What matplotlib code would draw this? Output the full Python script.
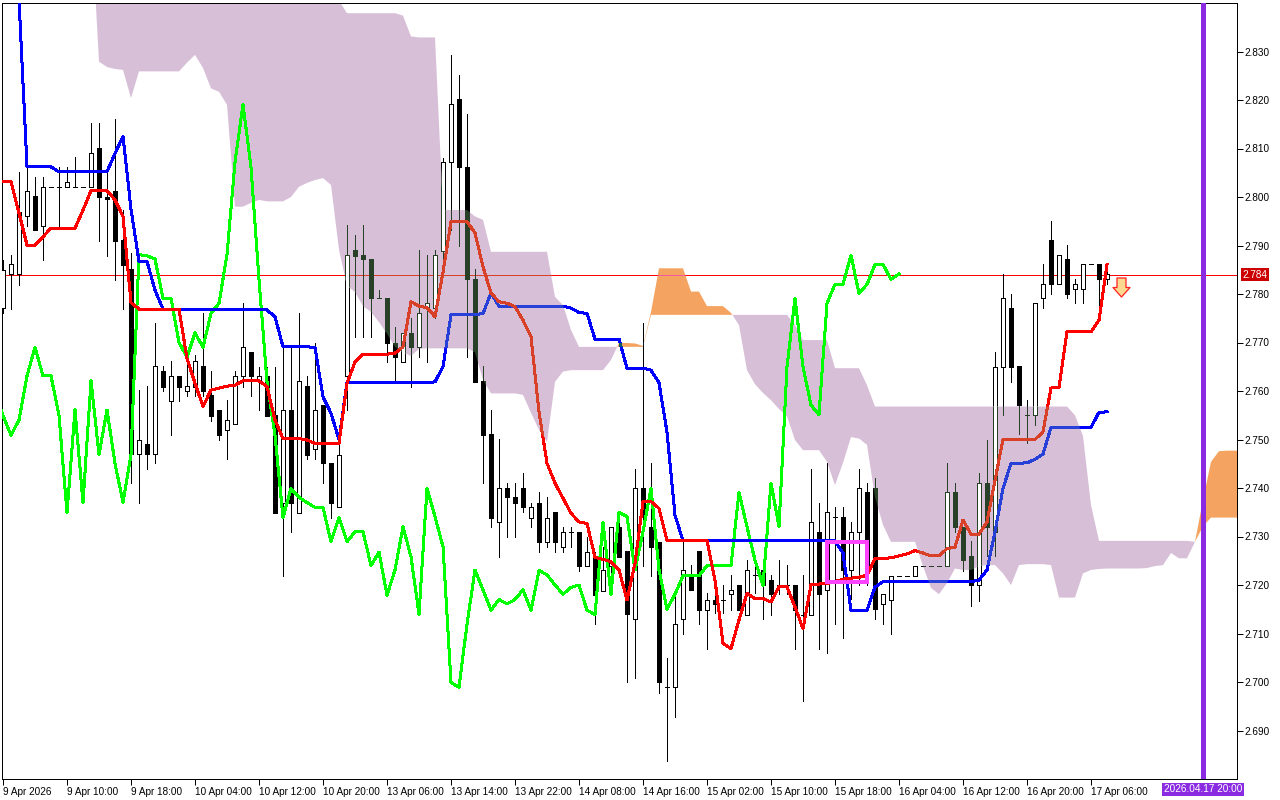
import numpy as np
import matplotlib
matplotlib.use("Agg")
import matplotlib.pyplot as plt
from matplotlib.path import Path
from matplotlib.patches import Rectangle
from matplotlib.transforms import blended_transform_factory

plt.rcParams['font.family'] = ['Liberation Sans', 'DejaVu Sans']

# H1 candles, 9 Apr 2026 .. 17 Apr 08:00 (bar index = position on the chart)
bar_open = [
    2.7771, 2.7841, 2.7841, 2.7960, 2.8002, 2.7941, 2.8020, 2.8020, 2.8020, 2.8020,
    2.8020, 2.8020, 2.8101, 2.8001, 2.8013, 2.7912, 2.7851, 2.7470, 2.7491, 2.7470,
    2.7641, 2.7580, 2.7631, 2.7600, 2.7609, 2.7652, 2.7592, 2.7561, 2.7520, 2.7531,
    2.7631, 2.7680, 2.7621, 2.7631, 2.7550, 2.7370, 2.7561, 2.7349, 2.7610, 2.7480,
    2.7571, 2.7451, 2.7360, 2.7630, 2.7891, 2.7881, 2.7872, 2.7791, 2.7791, 2.7700,
    2.7660, 2.7720, 2.7690, 2.7771, 2.7771, 2.7889, 2.8072, 2.8202, 2.8061, 2.7830,
    2.7621, 2.7511, 2.7329, 2.7399, 2.7381, 2.7399, 2.7339, 2.7370, 2.7289, 2.7350,
    2.7279, 2.7310, 2.7310, 2.7240, 2.7258, 2.7188, 2.7240, 2.7320, 2.7270, 2.7130,
    2.7399, 2.7320, 2.7289, 2.6989, 2.6989, 2.7129, 2.7221, 2.7270, 2.7148, 2.7170,
    2.7170, 2.7181, 2.7200, 2.7139, 2.7221, 2.7230, 2.7210, 2.7200, 2.7200, 2.7200,
    2.7139, 2.7139, 2.7310, 2.7190, 2.7341, 2.7341, 2.7231, 2.7310, 2.7391, 2.7399,
    2.7160, 2.7170, 2.7219, 2.7219, 2.7219, 2.7240, 2.7240, 2.7240, 2.7240, 2.7391,
    2.7320, 2.7260, 2.7199, 2.7410, 2.7310, 2.7650, 2.7771, 2.7652, 2.7551, 2.7551,
    2.7791, 2.7912, 2.7820, 2.7872, 2.7810, 2.7810, 2.7861, 2.7861, 2.7830,
]
bar_high = [
    2.7870, 2.7881, 2.8052, 2.8061, 2.8042, 2.8042, 2.8020, 2.8061, 2.8061, 2.8082,
    2.8020, 2.8152, 2.8152, 2.8061, 2.8161, 2.7973, 2.7884, 2.7602, 2.7610, 2.7740,
    2.7652, 2.7662, 2.7631, 2.7662, 2.7674, 2.7760, 2.7641, 2.7561, 2.7581, 2.7641,
    2.7781, 2.7680, 2.7650, 2.7650, 2.7650, 2.7691, 2.7690, 2.7760, 2.7631, 2.7700,
    2.7571, 2.7451, 2.7513, 2.7942, 2.7922, 2.7942, 2.7872, 2.7808, 2.7791, 2.7731,
    2.7720, 2.7750, 2.7891, 2.7881, 2.7891, 2.8080, 2.8293, 2.8252, 2.8171, 2.7851,
    2.7652, 2.7561, 2.7501, 2.7410, 2.7410, 2.7430, 2.7370, 2.7391, 2.7381, 2.7350,
    2.7320, 2.7320, 2.7310, 2.7299, 2.7268, 2.7279, 2.7320, 2.7351, 2.7270, 2.7440,
    2.7740, 2.7451, 2.7289, 2.7049, 2.7176, 2.7291, 2.7241, 2.7270, 2.7183, 2.7221,
    2.7200, 2.7221, 2.7200, 2.7251, 2.7241, 2.7241, 2.7221, 2.7251, 2.7241, 2.7200,
    2.7221, 2.7440, 2.7370, 2.7451, 2.7361, 2.7361, 2.7329, 2.7440, 2.7410, 2.7420,
    2.7181, 2.7219, 2.7219, 2.7219, 2.7240, 2.7240, 2.7240, 2.7240, 2.7451, 2.7410,
    2.7320, 2.7291, 2.7430, 2.7500, 2.7681, 2.7841, 2.7800, 2.7652, 2.7581, 2.7781,
    2.7861, 2.7951, 2.7880, 2.7901, 2.7830, 2.7861, 2.7861, 2.7861, 2.7851,
]
bar_low = [
    2.7760, 2.7769, 2.7819, 2.7941, 2.7931, 2.7870, 2.8020, 2.7934, 2.8020, 2.8020,
    2.8020, 2.8020, 2.7909, 2.7879, 2.7829, 2.7769, 2.7410, 2.7370, 2.7440, 2.7451,
    2.7600, 2.7509, 2.7580, 2.7590, 2.7590, 2.7590, 2.7539, 2.7499, 2.7460, 2.7531,
    2.7609, 2.7590, 2.7561, 2.7549, 2.7349, 2.7219, 2.7310, 2.7349, 2.7459, 2.7459,
    2.7410, 2.7339, 2.7360, 2.7561, 2.7712, 2.7712, 2.7712, 2.7791, 2.7660, 2.7619,
    2.7660, 2.7609, 2.7670, 2.7660, 2.7750, 2.7870, 2.7932, 2.7900, 2.7671, 2.7619,
    2.7410, 2.7320, 2.7258, 2.7300, 2.7300, 2.7350, 2.7320, 2.7268, 2.7279, 2.7268,
    2.7268, 2.7279, 2.7229, 2.7240, 2.7120, 2.7188, 2.7210, 2.7258, 2.6999, 2.7009,
    2.7240, 2.7219, 2.6978, 2.6837, 2.6928, 2.7100, 2.7190, 2.7119, 2.7069, 2.7142,
    2.7142, 2.7148, 2.7148, 2.7139, 2.7183, 2.7129, 2.7139, 2.7181, 2.7181, 2.7069,
    2.6960, 2.7139, 2.7069, 2.7059, 2.7119, 2.7090, 2.7172, 2.7200, 2.7200, 2.7129,
    2.7119, 2.7100, 2.7219, 2.7219, 2.7219, 2.7240, 2.7240, 2.7240, 2.7240, 2.7310,
    2.7229, 2.7157, 2.7168, 2.7260, 2.7260, 2.7551, 2.7619, 2.7511, 2.7492, 2.7530,
    2.7771, 2.7801, 2.7820, 2.7791, 2.7781, 2.7781, 2.7861, 2.7771, 2.7820,
]
bar_close = [
    2.7850, 2.7861, 2.7970, 2.8013, 2.7931, 2.8020, 2.8020, 2.8020, 2.8031, 2.8020,
    2.8020, 2.8090, 2.8001, 2.7995, 2.7910, 2.7860, 2.7470, 2.7500, 2.7470, 2.7652,
    2.7609, 2.7631, 2.7609, 2.7610, 2.7662, 2.7600, 2.7549, 2.7509, 2.7540, 2.7631,
    2.7690, 2.7631, 2.7631, 2.7549, 2.7349, 2.7561, 2.7370, 2.7621, 2.7469, 2.7561,
    2.7451, 2.7370, 2.7469, 2.7881, 2.7879, 2.7872, 2.7791, 2.7791, 2.7700, 2.7670,
    2.7720, 2.7690, 2.7760, 2.7781, 2.7881, 2.8072, 2.8191, 2.8061, 2.7830, 2.7619,
    2.7509, 2.7339, 2.7399, 2.7381, 2.7370, 2.7360, 2.7360, 2.7289, 2.7339, 2.7289,
    2.7310, 2.7310, 2.7240, 2.7268, 2.7179, 2.7231, 2.7320, 2.7258, 2.7140, 2.7399,
    2.7341, 2.7279, 2.6999, 2.6989, 2.7119, 2.7231, 2.7190, 2.7148, 2.7170, 2.7161,
    2.7170, 2.7190, 2.7148, 2.7230, 2.7221, 2.7200, 2.7181, 2.7195, 2.7200, 2.7148,
    2.7139, 2.7329, 2.7181, 2.7350, 2.7341, 2.7231, 2.7310, 2.7399, 2.7231, 2.7150,
    2.7181, 2.7219, 2.7219, 2.7219, 2.7240, 2.7240, 2.7240, 2.7240, 2.7391, 2.7320,
    2.7251, 2.7199, 2.7410, 2.7320, 2.7650, 2.7791, 2.7650, 2.7571, 2.7551, 2.7781,
    2.7820, 2.7820, 2.7880, 2.7801, 2.7820, 2.7861, 2.7861, 2.7830, 2.7841,
]

# Ichimoku lines
tenkan = [
    2.8032, 2.8032, 2.7967, 2.7901, 2.7901, 2.7918, 2.7936, 2.7936, 2.7936, 2.7936,
    2.7973, 2.8013, 2.8013, 2.8013, 2.7994, 2.7960, 2.7782, 2.7769, 2.7769, 2.7769,
    2.7769, 2.7769, 2.7769, 2.7667, 2.7616, 2.7568, 2.7602, 2.7606, 2.7610, 2.7612,
    2.7621, 2.7621, 2.7621, 2.7609, 2.7540, 2.7502, 2.7502, 2.7502, 2.7499, 2.7492,
    2.7492, 2.7492, 2.7492, 2.7616, 2.7660, 2.7676, 2.7676, 2.7676, 2.7676, 2.7678,
    2.7691, 2.7784, 2.7775, 2.7772, 2.7753, 2.7845, 2.7949, 2.7949, 2.7949, 2.7926,
    2.7856, 2.7802, 2.7784, 2.7781, 2.7774, 2.7746, 2.7712, 2.7557, 2.7451, 2.7410,
    2.7379, 2.7348, 2.7330, 2.7327, 2.7257, 2.7253, 2.7248, 2.7231, 2.7169, 2.7245,
    2.7372, 2.7372, 2.7358, 2.7291, 2.7291, 2.7291, 2.7291, 2.7291, 2.7291, 2.7210,
    2.7080, 2.7069, 2.7128, 2.7183, 2.7172, 2.7172, 2.7165, 2.7196, 2.7196, 2.7155,
    2.7110, 2.7200, 2.7202, 2.7203, 2.7207, 2.7212, 2.7214, 2.7216, 2.7220, 2.7255,
    2.7255, 2.7256, 2.7260, 2.7264, 2.7271, 2.7266, 2.7260, 2.7260, 2.7275, 2.7278,
    2.7334, 2.7305, 2.7305, 2.7330, 2.7416, 2.7500, 2.7500, 2.7500, 2.7500, 2.7500,
    2.7516, 2.7606, 2.7608, 2.7722, 2.7722, 2.7722, 2.7722, 2.7746, 2.7861,
]
kijun = [
    2.8460, 2.8460, 2.8407, 2.8063, 2.8063, 2.8063, 2.8062, 2.8052, 2.8052, 2.8052,
    2.8052, 2.8052, 2.8052, 2.8052, 2.8090, 2.8125, 2.7975, 2.7867, 2.7867, 2.7808,
    2.7769, 2.7769, 2.7769, 2.7769, 2.7769, 2.7769, 2.7769, 2.7769, 2.7769, 2.7769,
    2.7769, 2.7769, 2.7769, 2.7767, 2.7753, 2.7691, 2.7691, 2.7691, 2.7691, 2.7690,
    2.7588, 2.7554, 2.7500, 2.7617, 2.7617, 2.7617, 2.7617, 2.7617, 2.7617, 2.7617,
    2.7617, 2.7617, 2.7617, 2.7617, 2.7619, 2.7650, 2.7757, 2.7757, 2.7757, 2.7757,
    2.7760, 2.7802, 2.7775, 2.7775, 2.7775, 2.7775, 2.7775, 2.7775, 2.7775, 2.7775,
    2.7775, 2.7771, 2.7762, 2.7760, 2.7707, 2.7707, 2.7707, 2.7707, 2.7647, 2.7647,
    2.7647, 2.7643, 2.7617, 2.7515, 2.7344, 2.7291, 2.7291, 2.7291, 2.7291, 2.7291,
    2.7291, 2.7291, 2.7291, 2.7291, 2.7291, 2.7291, 2.7291, 2.7291, 2.7291, 2.7291,
    2.7291, 2.7291, 2.7291, 2.7291, 2.7291, 2.7266, 2.7148, 2.7148, 2.7148, 2.7196,
    2.7207, 2.7207, 2.7207, 2.7207, 2.7207, 2.7207, 2.7207, 2.7207, 2.7207, 2.7207,
    2.7207, 2.7207, 2.7210, 2.7231, 2.7310, 2.7399, 2.7451, 2.7451, 2.7452, 2.7459,
    2.7470, 2.7525, 2.7525, 2.7525, 2.7525, 2.7525, 2.7525, 2.7556, 2.7557,
]
# Senkou spans, already shifted 26 bars forward (bars 0..155)
span_a = [
    2.8580, 2.8580, 2.8580, 2.8580, 2.8580, 2.8580, 2.8580, 2.8580, 2.8580, 2.8580,
    2.8580, 2.8580, 2.8279, 2.8268, 2.8264, 2.8262, 2.8204, 2.8259, 2.8259, 2.8259,
    2.8259, 2.8259, 2.8259, 2.8277, 2.8293, 2.8266, 2.8224, 2.8217, 2.8190, 2.7980,
    2.7980, 2.7988, 2.7994, 2.7991, 2.7991, 2.7991, 2.8000, 2.8021, 2.8029, 2.8035,
    2.8039, 2.8025, 2.7891, 2.7817, 2.7804, 2.7775, 2.7763, 2.7742, 2.7718, 2.7691,
    2.7680, 2.7672, 2.7687, 2.7688, 2.7688, 2.7688, 2.7688, 2.7688, 2.7688, 2.7680,
    2.7623, 2.7595, 2.7595, 2.7595, 2.7595, 2.7592, 2.7555, 2.7520, 2.7495, 2.7619,
    2.7640, 2.7643, 2.7643, 2.7643, 2.7643, 2.7643, 2.7664, 2.7699, 2.7699, 2.7698,
    2.7693, 2.7763, 2.7853, 2.7853, 2.7853, 2.7853, 2.7805, 2.7805, 2.7775, 2.7775,
    2.7775, 2.7761, 2.7736, 2.7643, 2.7614, 2.7596, 2.7581, 2.7563, 2.7548, 2.7499,
    2.7478, 2.7478, 2.7478, 2.7454, 2.7406, 2.7452, 2.7505, 2.7502, 2.7489, 2.7381,
    2.7324, 2.7289, 2.7289, 2.7289, 2.7289, 2.7239, 2.7194, 2.7181, 2.7204, 2.7234,
    2.7231, 2.7231, 2.7239, 2.7241, 2.7241, 2.7224, 2.7200, 2.7241, 2.7243, 2.7243,
    2.7243, 2.7241, 2.7174, 2.7174, 2.7174, 2.7224, 2.7231, 2.7233, 2.7234, 2.7234,
    2.7234, 2.7234, 2.7234, 2.7235, 2.7239, 2.7241, 2.7266, 2.7255, 2.7255, 2.7289,
    2.7375, 2.7454, 2.7476, 2.7477, 2.7477, 2.7477,
]
span_b = [
    2.8700, 2.8700, 2.8700, 2.8700, 2.8700, 2.8700, 2.8700, 2.8700, 2.8700, 2.8700,
    2.8700, 2.8700, 2.8700, 2.8700, 2.8700, 2.8700, 2.8700, 2.8700, 2.8700, 2.8700,
    2.8700, 2.8700, 2.8700, 2.8700, 2.8700, 2.8700, 2.8700, 2.8700, 2.8700, 2.8700,
    2.8700, 2.8700, 2.8700, 2.8700, 2.8700, 2.8700, 2.8700, 2.8700, 2.8700, 2.8700,
    2.8700, 2.8700, 2.8405, 2.8379, 2.8379, 2.8379, 2.8379, 2.8379, 2.8379, 2.8379,
    2.8374, 2.8331, 2.8329, 2.8329, 2.8329, 2.7973, 2.7973, 2.7973, 2.7973, 2.7960,
    2.7953, 2.7887, 2.7887, 2.7887, 2.7887, 2.7887, 2.7887, 2.7887, 2.7887, 2.7794,
    2.7777, 2.7726, 2.7691, 2.7691, 2.7691, 2.7691, 2.7691, 2.7691, 2.7691, 2.7691,
    2.7691, 2.7757, 2.7757, 2.7757, 2.7757, 2.7757, 2.7757, 2.7757, 2.7757, 2.7757,
    2.7757, 2.7757, 2.7757, 2.7757, 2.7757, 2.7757, 2.7757, 2.7757, 2.7757, 2.7736,
    2.7705, 2.7705, 2.7705, 2.7705, 2.7647, 2.7647, 2.7647, 2.7647, 2.7612, 2.7568,
    2.7568, 2.7568, 2.7568, 2.7568, 2.7568, 2.7568, 2.7568, 2.7568, 2.7568, 2.7568,
    2.7568, 2.7568, 2.7568, 2.7568, 2.7568, 2.7568, 2.7568, 2.7568, 2.7568, 2.7568,
    2.7568, 2.7568, 2.7568, 2.7568, 2.7550, 2.7507, 2.7365, 2.7291, 2.7291, 2.7291,
    2.7291, 2.7291, 2.7291, 2.7291, 2.7291, 2.7291, 2.7291, 2.7291, 2.7291, 2.7289,
    2.7321, 2.7339, 2.7339, 2.7339, 2.7339, 2.7339,
]
chikou_shift = 26

time_ticks = [0, 8, 16, 24, 32, 40, 48, 56, 64, 72, 80, 88, 96, 104, 112, 120, 128, 136]
time_labels = ['9 Apr 2026', '9 Apr 10:00', '9 Apr 18:00', '10 Apr 04:00', '10 Apr 12:00',
               '10 Apr 20:00', '13 Apr 06:00', '13 Apr 14:00', '13 Apr 22:00', '14 Apr 08:00',
               '14 Apr 16:00', '15 Apr 02:00', '15 Apr 10:00', '15 Apr 18:00', '16 Apr 04:00',
               '16 Apr 12:00', '16 Apr 20:00', '17 Apr 06:00']
price_ticks = [2.690, 2.700, 2.710, 2.720, 2.730, 2.740, 2.750, 2.760, 2.770, 2.780,
               2.790, 2.800, 2.810, 2.820, 2.830]

bid_price = 2.784
future_bar = 150
future_label = '2026.04.17 20:00'
box_bars = (103, 108)
box_prices = (2.7207, 2.7289)
signal_bar = 139.8
signal_price = 2.7814

CLOUD_DOWN = '#D8BFD8'
CLOUD_UP = '#F4A460'
PX = 0.72  # one screen pixel in points at 100 dpi

fig = plt.figure(figsize=(12.8, 8), dpi=100)
ax = fig.add_axes([2 / 1280, 21 / 800, 1235 / 1280, 776 / 800])
ax.set_xlim(-0.125, 154.25)
ax.set_ylim(2.680, 2.840)

n = len(bar_close)
x = np.arange(n)
sa = np.array(span_a)
sb = np.array(span_b)
xc = np.arange(len(sa))

purple = ax.fill_between(xc, sa, sb, where=sb >= sa, interpolate=True,
                         color=CLOUD_DOWN, lw=0, zorder=1)
orange = ax.fill_between(xc, sa, sb, where=sa >= sb, interpolate=True,
                         color=CLOUD_UP, lw=0, zorder=1)
clip_down = Path.make_compound_path(*purple.get_paths())
clip_up = Path.make_compound_path(*orange.get_paths())


def clip_all(arts, clip):
    if clip is None:
        return
    for a in arts:
        a.set_clip_path(clip, ax.transData)


def draw_candles(ink, clip=None, z=3):
    arts = [ax.vlines(x, bar_low, bar_high, colors=ink, lw=PX, zorder=z, antialiased=False)]
    for i in range(n):
        o, c = bar_open[i], bar_close[i]
        if abs(c - o) < 1e-5:
            arts.append(ax.hlines(o, i - 0.3, i + 0.3, colors=ink, lw=PX,
                                  zorder=z + 0.5, antialiased=False))
        else:
            face = 'white' if c > o else ink
            r = Rectangle((i - 0.3, min(o, c)), 0.6, abs(c - o), facecolor=face,
                          edgecolor=ink, lw=PX, zorder=z + 0.5, antialiased=False)
            ax.add_patch(r)
            arts.append(r)
    clip_all(arts, clip)


def draw_lines(red, blue, green, bid, clip=None, z=5):
    arts = [
        ax.axhline(bid_price, color=bid, lw=PX, zorder=2 + z / 100, antialiased=False),
        ax.plot(x - chikou_shift, bar_close, color=green, lw=2 * PX, zorder=z,
                antialiased=False)[0],
        ax.plot(x, kijun, color=blue, lw=2 * PX, zorder=z + 0.1, antialiased=False)[0],
        ax.plot(x, tenkan, color=red, lw=2 * PX, zorder=z + 0.2, antialiased=False)[0],
    ]
    clip_all(arts, clip)


# normal drawing, then the same marks recoloured where the cloud covers them
draw_candles('black')
draw_candles('#274027', clip_down, z=3.01)
draw_candles('#0B5B9F', clip_up, z=3.01)
draw_lines('#FF0000', '#0000FF', '#00FF00', '#FF0000')
draw_lines('#D84027', '#2740D8', '#00FF00', '#D84027', clip_down, z=5.3)
draw_lines('#F45B9F', '#0B5B60', '#00FF00', '#F45B9F', clip_up, z=5.3)

ax.axvline(future_bar, color='#8A2BE2', lw=5 * PX, zorder=6, antialiased=False)
ax.add_patch(Rectangle((box_bars[0], box_prices[0]), box_bars[1] - box_bars[0],
                       box_prices[1] - box_prices[0], fill=False, ec='#FF44FF',
                       lw=4 * PX, zorder=6, joinstyle='miter', antialiased=False))

arrow = Path([(-4.5, 9.5), (4.5, 9.5), (4.5, 0), (8.5, 0), (0, -9.5), (-8.5, 0),
              (-4.5, 0), (-4.5, 9.5)],
             [Path.MOVETO] + [Path.LINETO] * 6 + [Path.CLOSEPOLY])
ax.plot(signal_bar, signal_price, marker=arrow, markersize=13.7, mfc='#FFD890',
        mec='#FF2020', mew=0.9, ls='none', zorder=7)

# axes
ax.yaxis.tick_right()
ax.set_yticks(price_ticks)
ax.set_yticklabels([f'{p:.3f}' for p in price_ticks])
ax.set_xticks(time_ticks)
ax.set_xticklabels(time_labels, ha='left')
ax.tick_params(axis='y', direction='out', length=4, width=PX, pad=1.5, labelsize=7.2)
ax.tick_params(axis='x', direction='out', length=4, width=PX, pad=1.5, labelsize=7.2)
for s in ax.spines.values():
    s.set_linewidth(PX)
    s.set_antialiased(False)

yt = blended_transform_factory(ax.transAxes, ax.transData)
ax.text(1.0045, bid_price, f'{bid_price:.3f}', transform=yt, ha='left', va='center',
        color='white', fontsize=7.2, clip_on=False,
        bbox=dict(boxstyle='square,pad=0.18', fc='#CC0000', ec='none'))
xt = blended_transform_factory(ax.transData, ax.transAxes)
ax.text(future_bar, -0.0135, future_label, transform=xt, ha='center', va='center',
        color='white', fontsize=7.2, clip_on=False,
        bbox=dict(boxstyle='square,pad=0.18', fc='#8A2BE2', ec='none'))

fig.savefig('out.png', dpi=100, facecolor='white')
